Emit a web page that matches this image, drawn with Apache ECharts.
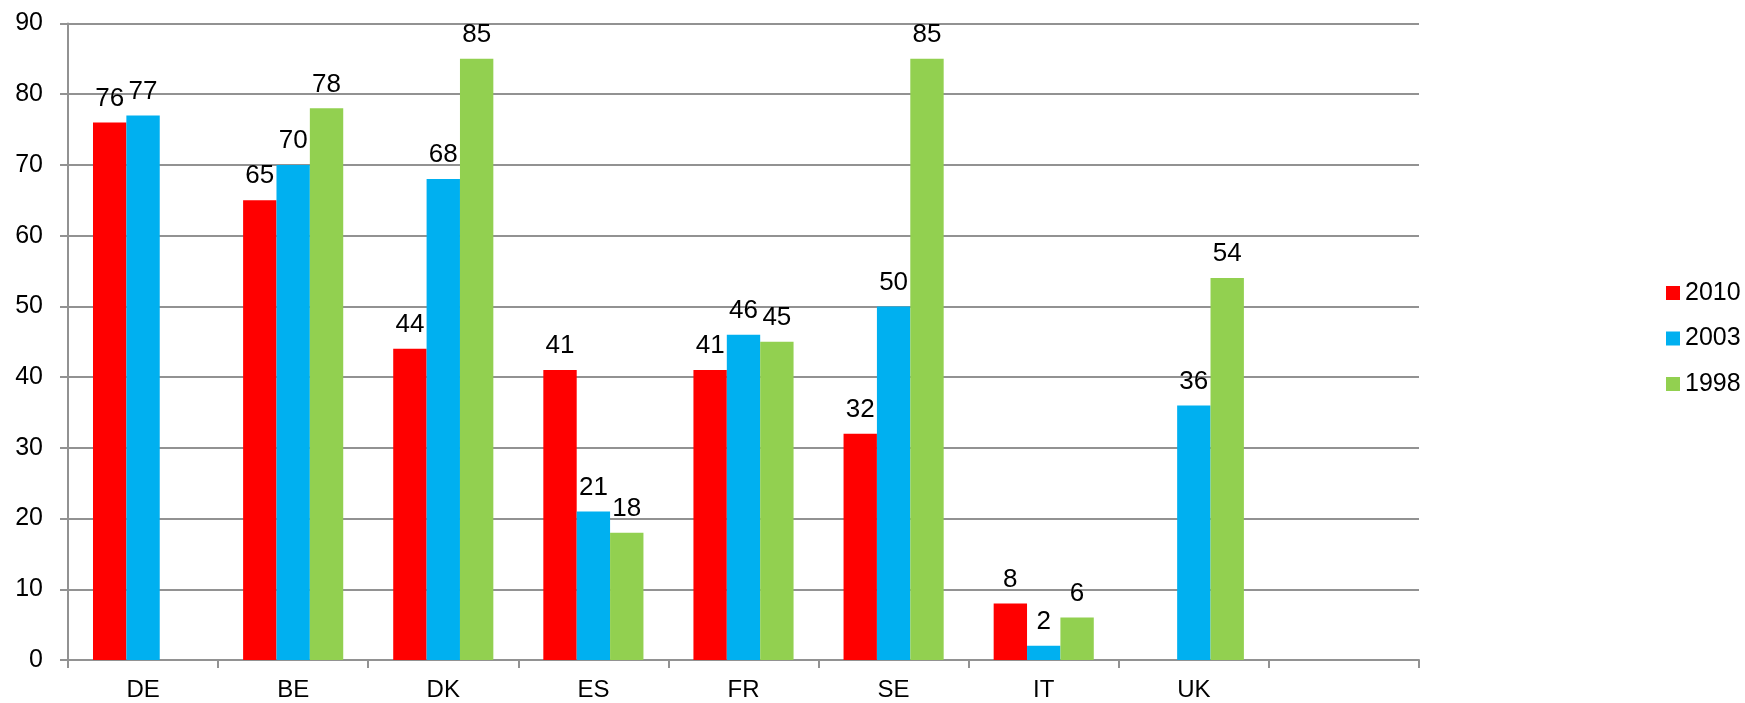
<!DOCTYPE html>
<html>
<head>
<meta charset="utf-8">
<script src="https://cdn.jsdelivr.net/npm/echarts@6/dist/echarts.min.js"></script>
<style>
  html, body { margin: 0; padding: 0; background: #ffffff; }
  #chart { width: 1745px; height: 703px; }
</style>
</head>
<body>
<div id="chart"></div>
<script>
// Country codes along the x axis (last slot is left empty)
const categories = ['DE', 'BE', 'DK', 'ES', 'FR', 'SE', 'IT', 'UK', ''];

// Values per survey year; null = no figure for that country
const values2010 = [76, 65, 44, 41, 41, 32, 8, null, null];
const values2003 = [77, 70, 68, 21, 46, 50, 2, 36, null];
const values1998 = [null, 78, 85, 18, 45, 85, 6, 54, null];

const seriesNames = ['2010', '2003', '1998'];
const seriesColors = ['#FF0000', '#00B0F0', '#92D050'];
const seriesValues = [values2010, values2003, values1998];

const FONT = "'Liberation Sans', Arial, sans-serif";
const GRID_GRAY = '#929292';

const chart = echarts.init(document.getElementById('chart'), null, { renderer: 'canvas' });

const series = seriesNames.map((name, i) => ({
  name: name,
  type: 'bar',
  data: seriesValues[i],
  barGap: '0%',
  barCategoryGap: '33.3%',
  itemStyle: { color: seriesColors[i] },
  label: {
    show: true,
    position: 'top',
    distance: 11,
    color: '#000000',
    fontFamily: FONT,
    fontSize: 26,
    formatter: p => (p.value == null ? '' : String(p.value))
  }
}));

chart.setOption({
  animation: false,
  backgroundColor: '#ffffff',
  grid: { left: 68, right: 326, top: 23.5, bottom: 43, containLabel: false },
  legend: {
    orient: 'vertical',
    left: 1661,
    top: 275,
    icon: 'rect',
    itemWidth: 14,
    itemHeight: 14,
    itemGap: 19.5,
    selectedMode: false,
    data: seriesNames,
    textStyle: { color: '#000000', fontFamily: FONT, fontSize: 25, lineHeight: 26 }
  },
  xAxis: {
    type: 'category',
    data: categories,
    axisLine: { show: true, lineStyle: { color: GRID_GRAY, width: 2 } },
    axisTick: { show: true, length: 8, lineStyle: { color: GRID_GRAY, width: 2 } },
    axisLabel: { color: '#000000', fontFamily: FONT, fontSize: 24, margin: 18, interval: 0 },
    splitLine: { show: false }
  },
  yAxis: {
    type: 'value',
    min: 0,
    max: 90,
    interval: 10,
    axisLine: { show: true, lineStyle: { color: GRID_GRAY, width: 2 } },
    axisTick: { show: true, length: 8, lineStyle: { color: GRID_GRAY, width: 2 } },
    axisLabel: { color: '#000000', fontFamily: FONT, fontSize: 25, margin: 25 },
    splitLine: { show: true, lineStyle: { color: GRID_GRAY, width: 2 } }
  },
  series: series
});
</script>
</body>
</html>
